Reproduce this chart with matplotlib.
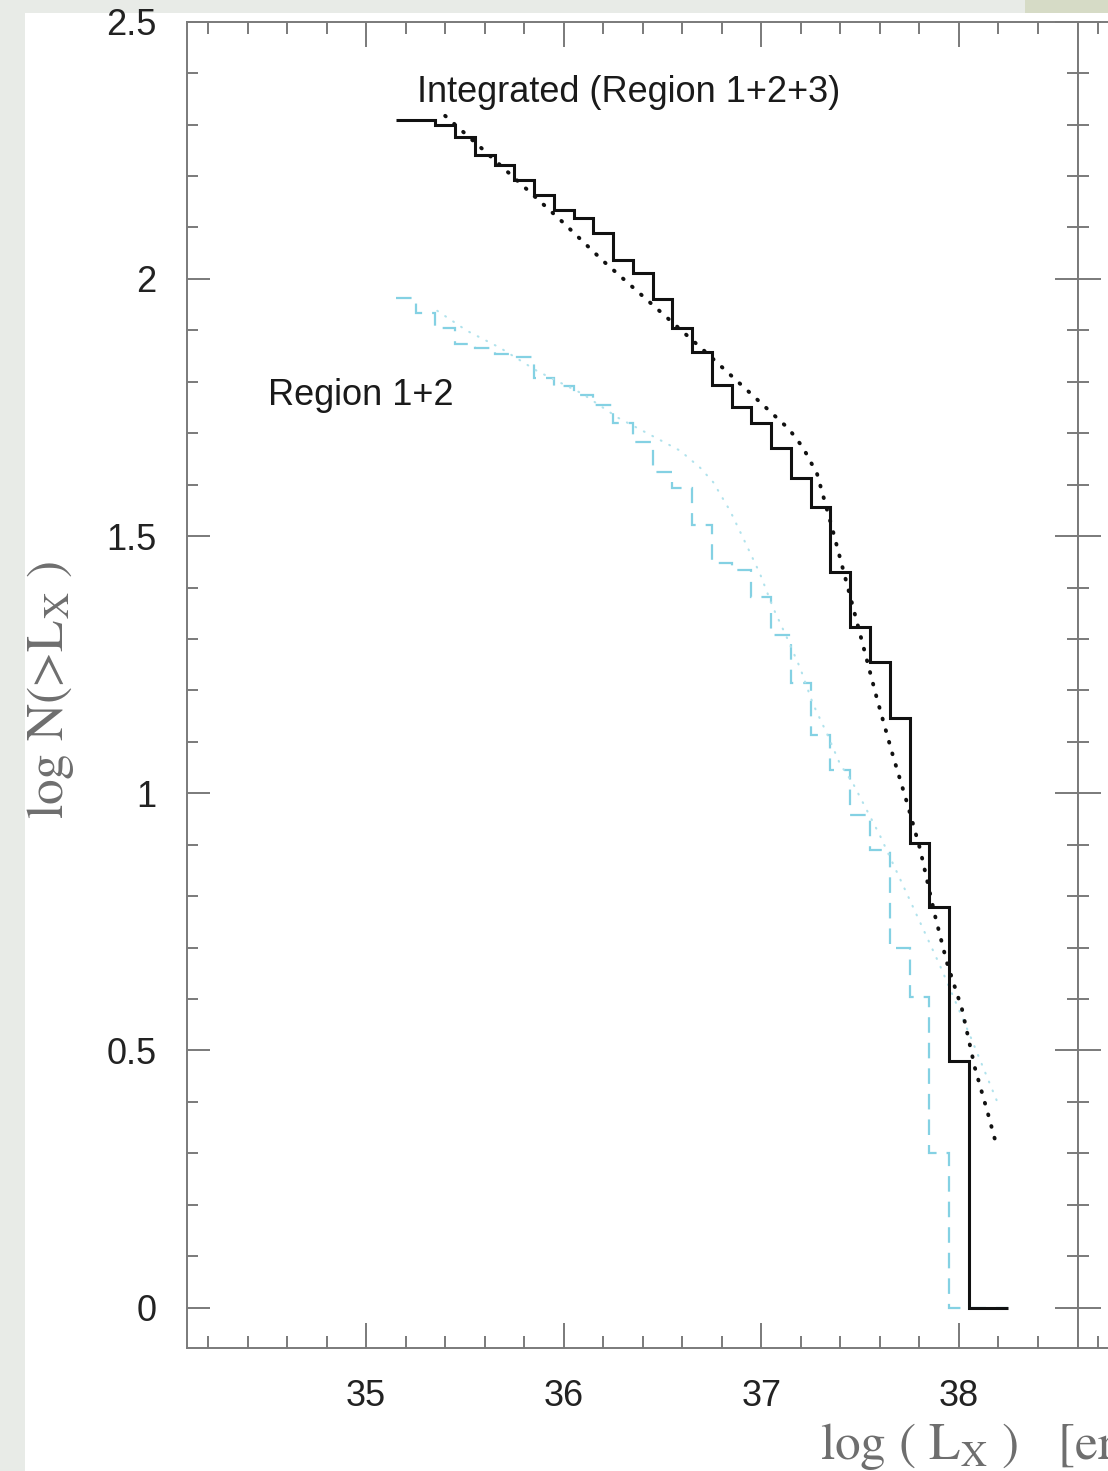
"""
Cumulative luminosity function, integrated sample vs. region 1+2
"""

import numpy as np
from matplotlib import pyplot as plt
from matplotlib.patches import Rectangle
from matplotlib.ticker import MultipleLocator

plt.rcParams['mathtext.fontset'] = 'stix'

# binned cumulative counts, bins of 0.1 dex starting at log Lx = 35.15
binStart = 35.15
binWidth = 0.1

# log N(>Lx), integrated (region 1+2+3)
logN_all = [2.309, 2.309, 2.300, 2.276, 2.241, 2.222, 2.193, 2.163, 2.134, 2.119,
            2.090, 2.037, 2.012, 1.961, 1.905, 1.858, 1.794, 1.751, 1.720, 1.671,
            1.613, 1.556, 1.430, 1.323, 1.255, 1.146, 0.903, 0.778, 0.479, 0.0, 0.0]

# log N(>Lx), region 1+2
logN_r12 = [1.963, 1.934, 1.905, 1.874, 1.866, 1.854, 1.848, 1.808, 1.792, 1.775,
            1.755, 1.720, 1.683, 1.624, 1.593, 1.521, 1.447, 1.434, 1.381, 1.307,
            1.214, 1.113, 1.045, 0.957, 0.890, 0.700, 0.603, 0.300, 0.0, 0.0, 0.0]

# model fits (dotted)
fitAllX = [35.400, 35.587, 35.805, 35.982, 36.199, 36.472, 36.700, 36.958, 37.140, 37.211,
           37.282, 37.358, 37.433, 37.509, 37.585, 37.666, 37.737, 37.803, 37.879, 37.939,
           38.015, 38.081, 38.147, 38.192]
fitAllY = [2.317, 2.253, 2.177, 2.115, 2.035, 1.942, 1.864, 1.773, 1.708, 1.672,
           1.621, 1.516, 1.407, 1.296, 1.184, 1.073, 0.982, 0.892, 0.762, 0.671,
           0.581, 0.466, 0.377, 0.313]

fitR12X = [35.360, 35.511, 35.678, 35.865, 36.093, 36.275, 36.447, 36.589, 36.690, 36.756,
           36.842, 36.907, 36.993, 37.059, 37.130, 37.196, 37.261, 37.332, 37.398, 37.464,
           37.600, 37.752, 37.904, 38.056, 38.192]
fitR12Y = [1.938, 1.899, 1.866, 1.821, 1.777, 1.730, 1.695, 1.666, 1.633, 1.605,
           1.549, 1.497, 1.427, 1.361, 1.302, 1.244, 1.174, 1.116, 1.057, 1.019,
           0.918, 0.792, 0.665, 0.529, 0.402]

W, H = 1108, 1471
XLIM = (34.095, 38.6)
YLIM = (-0.079, 2.5)
axisGray = "#7a7a7a"
cyan = "#84d1e3"
cyanLight = "#b0e2ec"

fig = plt.figure(figsize=(W / 100, H / 100), dpi=100, facecolor="#e8ebe7")
fig.patches.append(Rectangle((25 / W, 0), 1, 1 - 13 / H, transform=fig.transFigure,
                             facecolor="white", edgecolor="none", zorder=-10))
fig.patches.append(Rectangle((1025 / W, 1 - 13 / H), 1, 13 / H, transform=fig.transFigure,
                             facecolor="#d6dbc6", edgecolor="none", zorder=-10))

left, bottom = 187.3 / W, 1 - 1348.3 / H
width, height = 890.2 / W, (1348.3 - 21.7) / H
ax = fig.add_axes([left, bottom, width, height])
ax2 = fig.add_axes([left + width, bottom, width, height])


def style_axis(a):
    a.set_xlim(*XLIM)
    a.set_ylim(*YLIM)
    a.xaxis.set_major_locator(MultipleLocator(1))
    a.xaxis.set_minor_locator(MultipleLocator(0.2))
    a.yaxis.set_major_locator(MultipleLocator(0.5))
    a.yaxis.set_minor_locator(MultipleLocator(0.1))
    for sp in a.spines.values():
        sp.set_color(axisGray)
        sp.set_linewidth(1.4)
    a.tick_params(which="both", direction="in", color=axisGray, width=1.4,
                  top=True, right=True)
    a.tick_params(axis="x", which="major", length=18)
    a.tick_params(axis="x", which="minor", length=8.5)
    a.tick_params(axis="y", which="major", length=16.5)
    a.tick_params(axis="y", which="minor", length=8)


style_axis(ax)
style_axis(ax2)
ax2.tick_params(labelleft=False, labelbottom=False)
ax2.spines["right"].set_visible(False)

edges = binStart + binWidth * np.arange(len(logN_all) + 1)

ax.stairs(logN_r12, edges, baseline=None, color=cyan, linewidth=1.6,
          linestyle=(0, (7, 4.5)), zorder=2)
ax.plot(fitR12X, fitR12Y, color=cyanLight, linewidth=1.5,
        linestyle=(0, (0.4, 4.2)), dash_capstyle="round", zorder=2)
ax.stairs(logN_all, edges, baseline=None, color="#111111", linewidth=2.2, zorder=3)
ax.plot(fitAllX, fitAllY, color="#111111", linewidth=2.8,
        linestyle=(0, (0.2, 2.9)), dash_capstyle="round", zorder=4)

tickFont = dict(family="Liberation Sans", size=26)
ax.set_xticks([35, 36, 37, 38])
ax.set_xticklabels(["35", "36", "37", "38"], **tickFont, color="#222222")
ax.set_yticks([0, 0.5, 1, 1.5, 2, 2.5])
ax.set_yticklabels(["0", "0.5", "1", "1.5", "2", "2.5"], **tickFont, color="#222222")
ax.tick_params(axis="x", which="major", pad=22)
ax.tick_params(axis="y", which="major", pad=22)

ax.text(35.258, 2.362, "Integrated (Region 1+2+3)", ha="left", va="center",
        color="#1a1a1a", **tickFont)
ax.text(34.505, 1.773, "Region 1+2", ha="left", va="center",
        color="#1a1a1a", **tickFont)

fig.text(50 / W, 1 - 690 / H, r"log N(>L$_{\rm X}$ )", rotation=90,
         ha="center", va="center", family="STIXGeneral", size=37, color="#6e6e6e")
fig.text(820 / W, 1 - 1460 / H, r"log ( L$_{\rm X}$ )   [erg s$^{-1}$]",
         ha="left", va="baseline", family="STIXGeneral", size=37, color="#6e6e6e")

fig.savefig("out.png", dpi=100, facecolor=fig.get_facecolor())
